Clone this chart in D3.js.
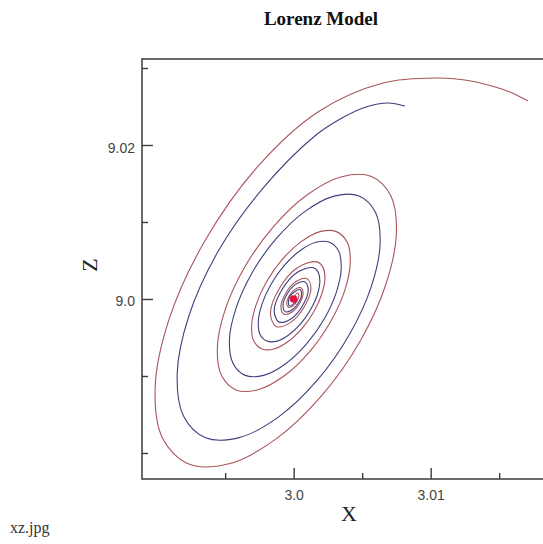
<!DOCTYPE html>
<html>
<head>
<meta charset="utf-8">
<script src="https://cdn.jsdelivr.net/npm/d3@7"></script>
<style>
  body { margin: 0; background: #fff; }
  #chart { width: 543px; height: 544px; }
</style>
</head>
<body>
<div id="chart"></div>
<script>
// trajectory: x and z, red run then blue run
const redX = [
  3.01710, 3.01579, 3.01447, 3.01250, 3.01046, 3.00652, 3.00177, 2.99726, 2.99347, 2.99091,
  2.98989, 2.99042, 2.99235, 2.99527, 2.99867, 3.00203, 3.00485, 3.00674, 3.00750, 3.00710,
  3.00568, 3.00351, 3.00099, 2.99850, 2.99640, 2.99499, 2.99443, 2.99473, 2.99579, 2.99739,
  2.99927, 3.00112, 3.00267, 3.00372, 3.00413, 3.00391, 3.00312, 3.00193, 3.00055, 2.99917,
  2.99802, 2.99725, 2.99693, 2.99709, 2.99768, 2.99857, 2.99960, 3.00061, 3.00147, 3.00204,
  3.00228, 3.00215, 3.00172, 3.00030, 2.99891, 2.99831, 2.99872, 2.99978, 3.00081, 3.00126,
  3.00095, 3.00017, 2.99940, 2.99907, 2.99930, 2.99988, 3.00045, 3.00069, 3.00052, 3.00009,
  2.99967, 2.99949, 2.99961, 2.99993, 3.00025, 3.00038, 3.00028, 3.00000
];
const redZ = [
  9.02571, 9.02688, 9.02766, 9.02844, 9.02870, 9.02805, 9.02429, 9.01696, 9.00739, 8.99738,
  8.98851, 8.98196, 8.97856, 8.97859, 8.98177, 8.98742, 8.99452, 9.00195, 9.00853, 9.01338,
  9.01591, 9.01588, 9.01353, 9.00934, 9.00406, 8.99856, 8.99368, 8.99008, 8.98819, 8.98821,
  8.98996, 8.99307, 8.99699, 9.00106, 9.00469, 9.00736, 9.00875, 9.00875, 9.00745, 9.00514,
  9.00223, 8.99921, 8.99652, 8.99453, 8.99351, 8.99351, 8.99447, 8.99618, 8.99834, 9.00058,
  9.00258, 9.00405, 9.00482, 9.00410, 9.00123, 8.99808, 8.99643, 8.99696, 8.99909, 9.00143,
  9.00265, 9.00226, 9.00068, 8.99895, 8.99803, 8.99832, 8.99949, 9.00078, 9.00147, 9.00125,
  9.00038, 8.99942, 8.99892, 8.99908, 8.99973, 9.00043, 9.00081, 9.00000
];
const blueX = [
  3.00812, 3.00688, 3.00528, 3.00353, 3.00163, 2.99770, 2.99450, 2.99235, 2.99150, 2.99195,
  2.99357, 2.99602, 2.99888, 3.00171, 3.00407, 3.00567, 3.00631, 3.00597, 3.00477, 3.00296,
  3.00083, 2.99874, 2.99697, 2.99579, 2.99531, 2.99557, 2.99646, 2.99781, 2.99939, 3.00094,
  3.00225, 3.00312, 3.00347, 3.00329, 3.00263, 3.00163, 3.00046, 2.99930, 2.99834, 2.99769,
  2.99742, 2.99755, 2.99805, 2.99880, 2.99966, 3.00052, 3.00123, 3.00172, 3.00191, 3.00181,
  3.00145, 3.00025, 2.99909, 2.99858, 2.99893, 2.99982, 3.00068, 3.00106, 3.00080, 3.00014,
  2.99950, 2.99922, 2.99941, 2.99990, 3.00037, 3.00058, 3.00044, 2.99972, 2.99967, 3.00021,
  3.00000
];
const blueZ = [
  9.02506, 9.02545, 9.02494, 9.02351, 9.02130, 9.01426, 9.00622, 8.99779, 8.99034, 8.98483,
  8.98197, 8.98199, 8.98466, 8.98942, 8.99539, 9.00164, 9.00718, 9.01125, 9.01338, 9.01336,
  9.01138, 9.00786, 9.00342, 8.99879, 8.99468, 8.99165, 8.99008, 8.99008, 8.99156, 8.99417,
  8.99747, 9.00090, 9.00395, 9.00619, 9.00736, 9.00736, 9.00627, 9.00432, 9.00188, 8.99934,
  8.99708, 8.99540, 8.99453, 8.99453, 8.99535, 8.99679, 8.99860, 9.00049, 9.00217, 9.00340,
  9.00405, 9.00345, 9.00104, 8.99839, 8.99700, 8.99744, 8.99923, 9.00121, 9.00223, 9.00190,
  9.00057, 8.99912, 8.99834, 8.99860, 8.99957, 9.00065, 9.00123, 9.00031, 8.99909, 8.99977,
  9.00000
];
const fixedPoint = [3.0, 9.0];

const xMajorTicks = [3.0, 3.01];
const xMajorLabels = ['3.0', '3.01'];
const xMinorTicks = [2.995, 3.005, 3.015];
const zMajorTicks = [9.0, 9.02];
const zMajorLabels = ['9.0', '9.02'];
const zMinorTicks = [8.98, 8.99, 9.01, 9.03];

const W = 543, H = 544;
const box = { left: 142, top: 59, right: 560, bottom: 479 };

const svg = d3.select('#chart').append('svg')
  .attr('width', W)
  .attr('height', H)
  .style('display', 'block');

const x = d3.scaleLinear().domain([2.98893, 3.01944]).range([box.left, box.right]);
const z = d3.scaleLinear().domain([8.97662, 9.03117]).range([box.bottom, box.top]);

svg.append('defs').append('clipPath').attr('id', 'plot')
  .append('rect')
  .attr('x', box.left).attr('y', box.top)
  .attr('width', box.right - box.left).attr('height', box.bottom - box.top);

const line = d3.line()
  .x(d => x(d[0]))
  .y(d => z(d[1]))
  .curve(d3.curveCatmullRom.alpha(0.5));

const curves = svg.append('g').attr('clip-path', 'url(#plot)');

curves.append('path')
  .datum(redX.map((v, i) => [v, redZ[i]]))
  .attr('d', line)
  .attr('fill', 'none')
  .attr('stroke', '#a9545a')
  .attr('stroke-width', 1.1);

curves.append('path')
  .datum(blueX.map((v, i) => [v, blueZ[i]]))
  .attr('d', line)
  .attr('fill', 'none')
  .attr('stroke', '#3f3f7e')
  .attr('stroke-width', 1.1);

curves.append('circle')
  .attr('cx', x(fixedPoint[0]))
  .attr('cy', z(fixedPoint[1]))
  .attr('r', 3.8)
  .attr('fill', '#e3103c');

// frame
svg.append('rect')
  .attr('x', box.left).attr('y', box.top)
  .attr('width', box.right - box.left).attr('height', box.bottom - box.top)
  .attr('fill', 'none')
  .attr('stroke', '#3a3a3a')
  .attr('stroke-width', 1.5);

function styleAxis(g) {
  g.select('.domain').remove();
  g.selectAll('.tick line').attr('stroke', '#3a3a3a').attr('stroke-width', 1.4);
  g.selectAll('.tick text')
    .attr('fill', '#444')
    .style('font-family', '"Liberation Sans", Arial, sans-serif')
    .style('font-size', '14px');
}

svg.append('g')
  .attr('transform', `translate(0,${box.bottom})`)
  .call(d3.axisBottom(x).tickValues(xMajorTicks).tickSize(-11).tickPadding(8)
    .tickFormat((d, i) => xMajorLabels[i]))
  .call(styleAxis)
  .selectAll('.tick text').attr('dy', '0.95em');

svg.append('g')
  .attr('transform', `translate(0,${box.bottom})`)
  .call(d3.axisBottom(x).tickValues(xMinorTicks).tickSize(-6).tickFormat(''))
  .call(styleAxis);

svg.append('g')
  .attr('transform', `translate(${box.left},0)`)
  .call(d3.axisLeft(z).tickValues(zMajorTicks).tickSize(-11).tickPadding(7)
    .tickFormat((d, i) => zMajorLabels[i]))
  .call(styleAxis)
  .selectAll('.tick text').attr('dy', '0.5em');

svg.append('g')
  .attr('transform', `translate(${box.left},0)`)
  .call(d3.axisLeft(z).tickValues(zMinorTicks).tickSize(-6).tickFormat(''))
  .call(styleAxis);

// titles
svg.append('text')
  .attr('x', 321).attr('y', 25)
  .attr('text-anchor', 'middle')
  .style('font-family', '"Liberation Serif", "Times New Roman", serif')
  .style('font-weight', 'bold')
  .style('font-size', '19px')
  .attr('fill', '#111')
  .text('Lorenz Model');

svg.append('text')
  .attr('x', 349).attr('y', 521)
  .attr('text-anchor', 'middle')
  .style('font-family', '"Liberation Serif", "Times New Roman", serif')
  .style('font-size', '22px')
  .attr('fill', '#222')
  .text('X');

svg.append('text')
  .attr('transform', 'translate(97,265) rotate(-90)')
  .attr('text-anchor', 'middle')
  .style('font-family', '"Liberation Serif", "Times New Roman", serif')
  .style('font-size', '22px')
  .attr('fill', '#222')
  .text('Z');

svg.append('text')
  .attr('x', 10).attr('y', 533)
  .style('font-family', '"Liberation Serif", "Times New Roman", serif')
  .style('font-size', '16px')
  .attr('fill', '#333')
  .text('xz.jpg');
</script>
</body>
</html>
